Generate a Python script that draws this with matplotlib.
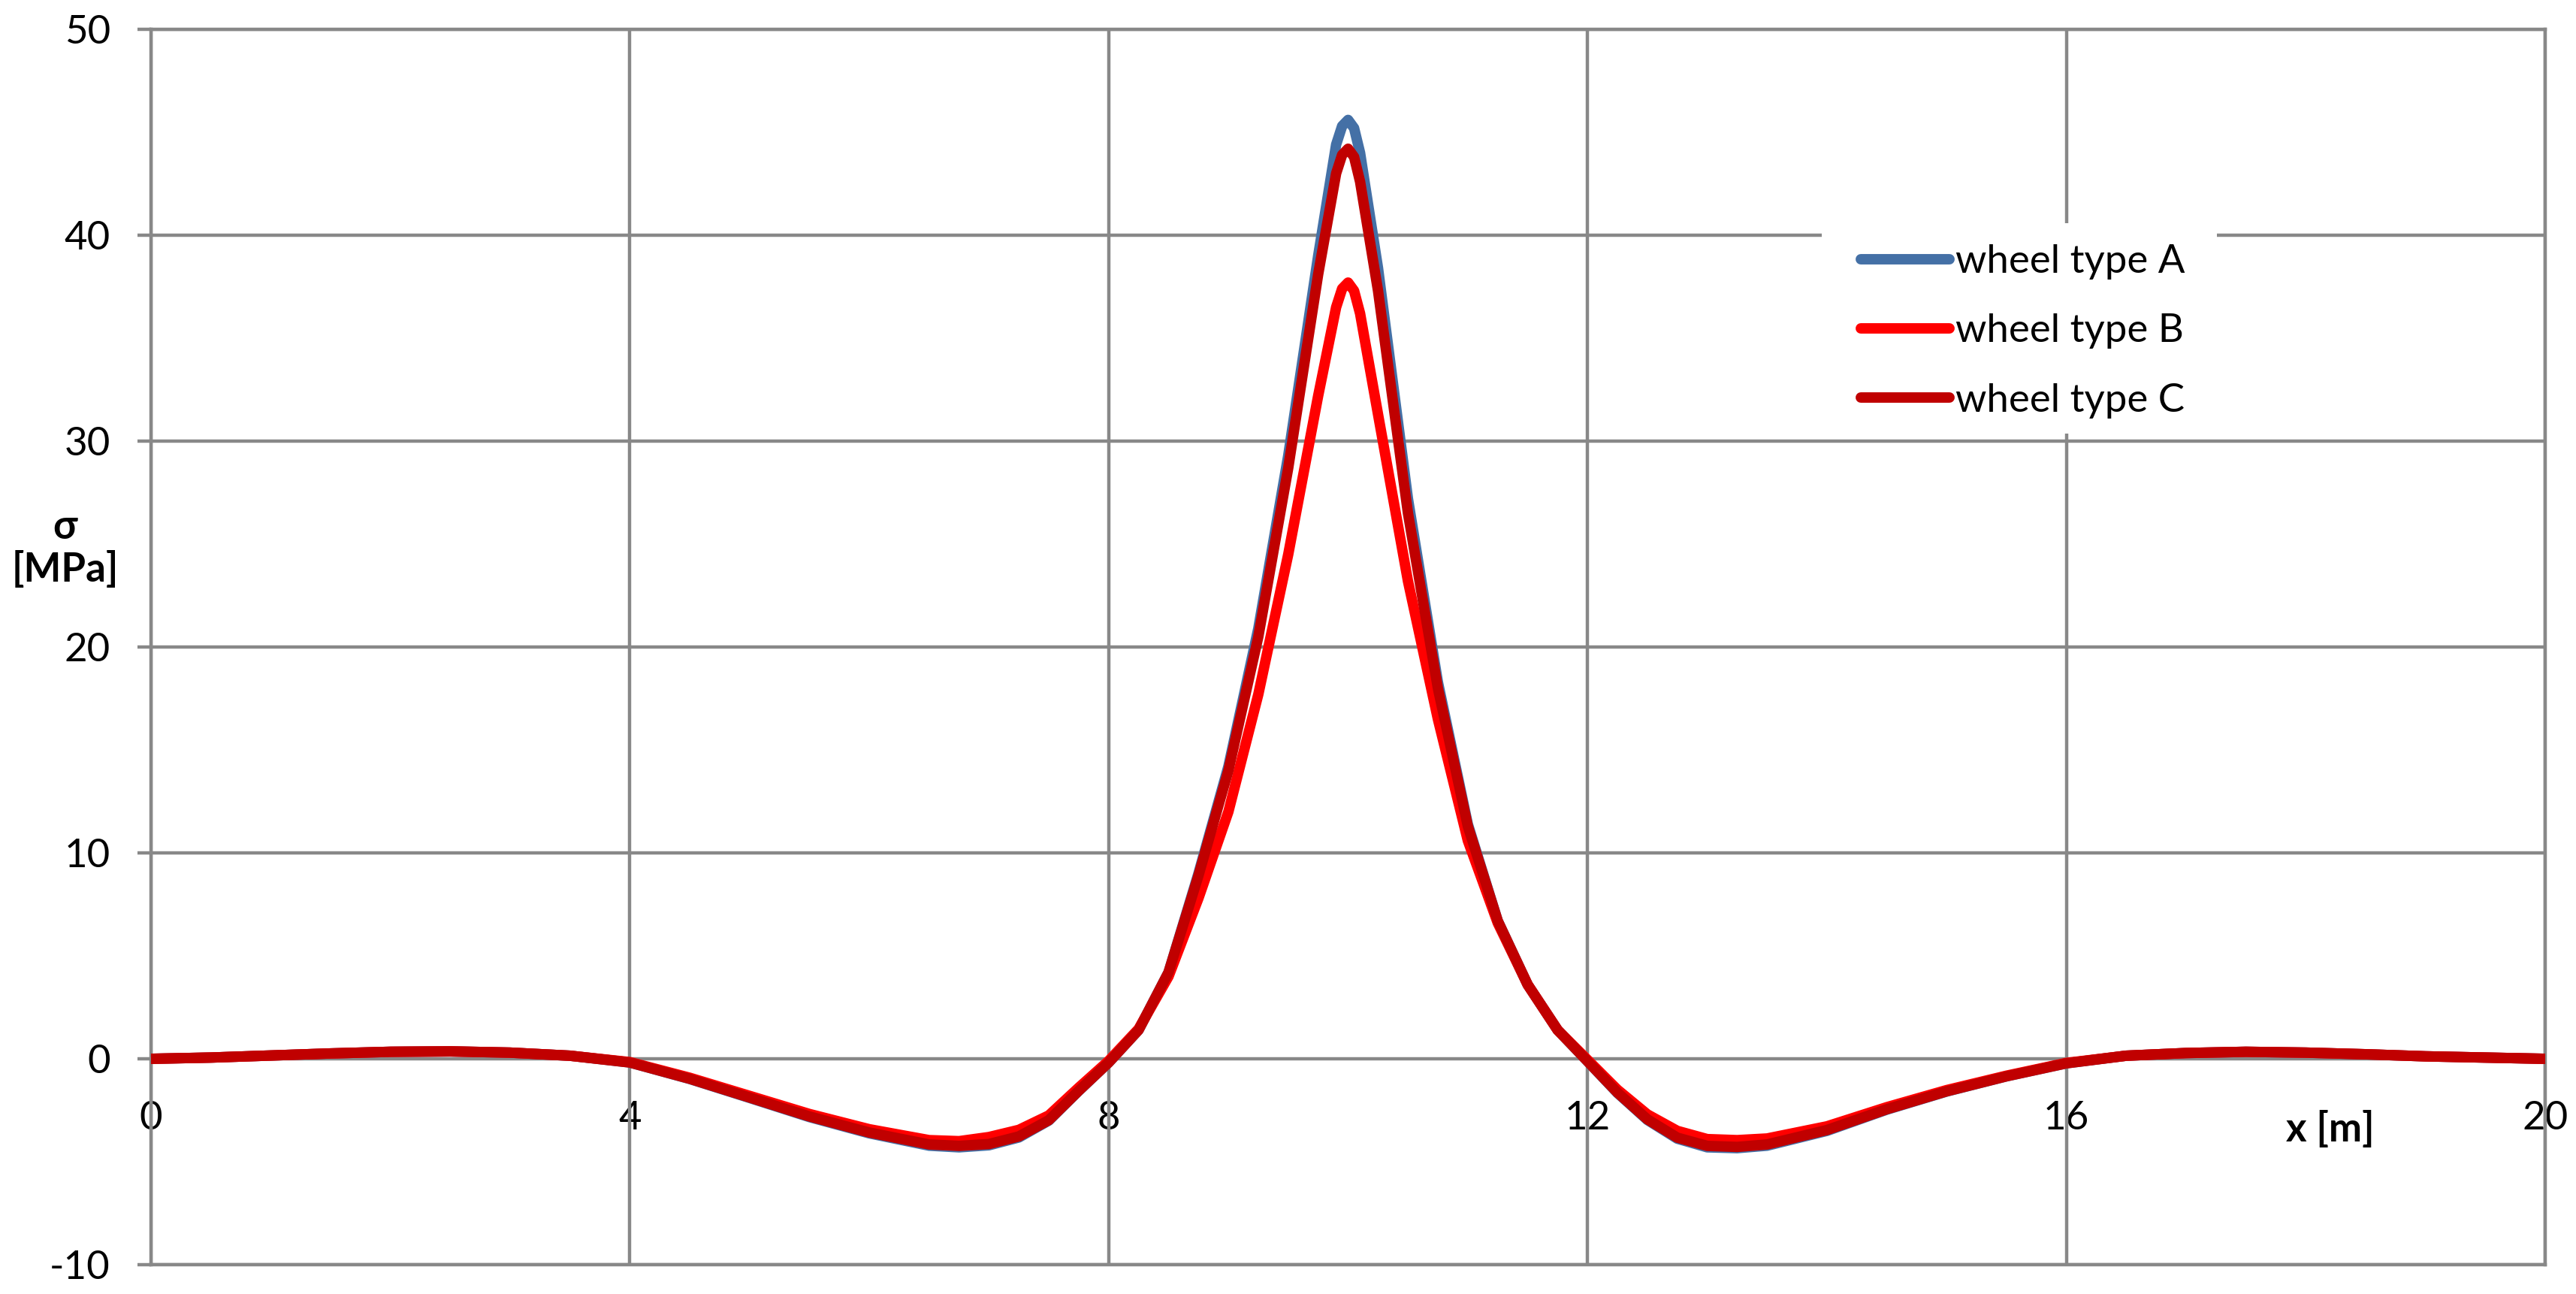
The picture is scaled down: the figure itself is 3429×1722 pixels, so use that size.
import matplotlib
matplotlib.use("Agg")
import matplotlib.pyplot as plt
from matplotlib.patches import Rectangle

plt.rcParams['font.family'] = ['Lato', 'DejaVu Sans']
plt.rcParams['axes.unicode_minus'] = False

# ---- data ----
x_m = [0, 0.5, 1, 1.5, 2, 2.5, 3, 3.5, 4, 4.5, 5, 5.5, 6, 6.5, 6.75, 7, 7.25, 7.5, 7.75, 8,
       8.25, 8.5, 8.75, 9, 9.25, 9.5, 9.75, 9.9, 9.95, 10, 10.05, 10.1, 10.25, 10.5, 10.75, 11,
       11.25, 11.5, 11.75, 12, 12.25, 12.5, 12.75, 13, 13.25, 13.5, 14, 14.5, 15, 15.5, 16,
       16.5, 17, 17.5, 18, 18.5, 19, 19.5, 20]

sigma_A = [0.0, 0.06, 0.16, 0.26, 0.34, 0.36, 0.30, 0.15, -0.18, -0.98, -1.90, -2.83, -3.62,
           -4.22, -4.30, -4.20, -3.82, -3.00, -1.56, -0.18, 1.4, 4.2, 9.0, 14.2, 20.9, 29.3,
           39.0, 44.4, 45.3, 45.6, 45.2, 44.0, 38.4, 27.2, 18.3, 11.4, 6.7, 3.6, 1.4, -0.12,
           -1.66, -2.97, -3.88, -4.30, -4.34, -4.22, -3.50, -2.47, -1.59, -0.85, -0.22, 0.15,
           0.28, 0.34, 0.30, 0.22, 0.12, 0.06, 0.0]

sigma_B = [0.0, 0.06, 0.16, 0.26, 0.34, 0.36, 0.30, 0.15, -0.16, -0.92, -1.80, -2.68, -3.42,
           -3.95, -4.00, -3.80, -3.45, -2.75, -1.40, -0.10, 1.45, 4.0, 7.8, 12.0, 17.7, 24.5,
           32.2, 36.5, 37.4, 37.7, 37.3, 36.2, 31.3, 23.2, 16.5, 10.6, 6.6, 3.6, 1.4, -0.05,
           -1.50, -2.70, -3.50, -3.90, -3.95, -3.87, -3.28, -2.35, -1.52, -0.82, -0.20, 0.15,
           0.28, 0.34, 0.30, 0.22, 0.12, 0.06, 0.0]

sigma_C = [0.0, 0.06, 0.16, 0.26, 0.34, 0.36, 0.30, 0.15, -0.18, -0.97, -1.88, -2.80, -3.58,
           -4.16, -4.23, -4.14, -3.77, -2.98, -1.55, -0.18, 1.4, 4.2, 8.9, 14.0, 20.5, 28.7,
           38.1, 43.0, 43.9, 44.2, 43.8, 42.6, 37.3, 26.5, 18.0, 11.3, 6.7, 3.6, 1.4, -0.12,
           -1.64, -2.94, -3.83, -4.23, -4.28, -4.16, -3.46, -2.45, -1.58, -0.85, -0.22, 0.15,
           0.28, 0.34, 0.30, 0.22, 0.12, 0.06, 0.0]

series_labels = ["wheel type A", "wheel type B", "wheel type C"]
x_ticks = [0, 4, 8, 12, 16, 20]
y_ticks = [-10, 0, 10, 20, 30, 40, 50]

# ---- style ----
W, H = 3430, 1722
FS = 38
GRID = "#888888"
GLW = 3.2
colors = ["#4470A6", "#FF0000", "#C00000"]

fig = plt.figure(figsize=(W / 100, H / 100), dpi=100)
ax = fig.add_axes([201 / W, 1 - 1683 / H, 3187 / W, 1644 / H])
ax.set_xlim(0, 20)
ax.set_ylim(-10, 50)
ax.set_xticks(x_ticks)
ax.set_yticks(y_ticks)
ax.set_axisbelow(True)
ax.grid(True, color=GRID, linewidth=GLW)
for s in ax.spines.values():
    s.set_color(GRID)
    s.set_linewidth(GLW)

ax.tick_params(axis='x', length=0, labelbottom=False)
ax.tick_params(axis='y', direction='out', length=13, width=GLW, color=GRID,
               labelsize=FS, pad=26)

# x tick labels just below the y=0 line
y0_frac = (0 - (-10)) / (50 - (-10))
sec = ax.secondary_xaxis(y0_frac)
sec.set_xticks(x_ticks)
sec.tick_params(axis='x', length=0, labelsize=FS, pad=40)
sec.spines['bottom'].set_visible(False)

# white legend background
ax.add_patch(Rectangle((0.6978, 0.6727), 0.8629 - 0.6978, 0.8431 - 0.6727,
                       transform=ax.transAxes, facecolor='white', edgecolor='none', zorder=1))

for ys, c, lab in zip([sigma_A, sigma_B, sigma_C], colors, series_labels):
    ax.plot(x_m, ys, color=c, linewidth=10, solid_capstyle='round',
            solid_joinstyle='round', label=lab, zorder=3)

leg = ax.legend(loc='upper left', bbox_to_anchor=(0.7142, 0.826), frameon=False,
                fontsize=FS, handlelength=2.23, handletextpad=0.15, labelspacing=0.86,
                borderpad=0, borderaxespad=0)
for ln in leg.get_lines():
    ln.set_linewidth(10)

ax.set_ylabel("σ\n[MPa]", rotation=0, fontsize=FS, fontweight='bold',
              ha='center', va='center', multialignment='center', linespacing=1.15)
ax.yaxis.set_label_coords(-0.0358, 0.5797)
ax.set_xlabel("x [m]", fontsize=FS, fontweight='bold', ha='center', va='center')
ax.xaxis.set_label_coords(0.9103, 0.1095)

fig.savefig("out.png", dpi=100, facecolor='white')
